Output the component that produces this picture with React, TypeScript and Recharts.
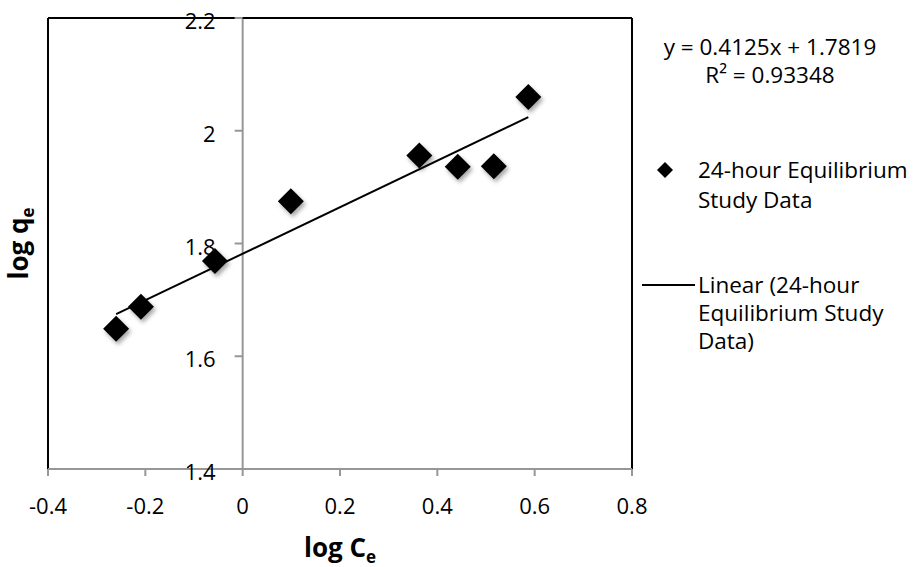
import React from 'react';
import {
  ScatterChart,
  Scatter,
  XAxis,
  YAxis,
  CartesianGrid,
  ReferenceLine,
  ReferenceDot,
} from 'recharts';

const logCe = [-0.26, -0.209, -0.057, 0.099, 0.363, 0.442, 0.516, 0.587];
const logQe = [1.649, 1.688, 1.769, 1.875, 1.956, 1.936, 1.937, 2.06];
const xTicks = [-0.4, -0.2, 0, 0.2, 0.4, 0.6, 0.8];
const yTicks = [1.4, 1.6, 1.8, 2, 2.2];
const slope = 0.4125;
const intercept = 1.7819;
const rSquared = '0.93348';

const points = logCe.map((x, i) => ({ x, y: logQe[i] }));
const xMin = Math.min(...logCe);
const xMax = Math.max(...logCe);

const FONT = '"Open Sans", sans-serif';
const GRID = '#979797';

function Diamond(props: any) {
  const { cx, cy } = props;
  const r = 13;
  return (
    <polygon
      points={`${cx},${cy - r} ${cx + r},${cy} ${cx},${cy + r} ${cx - r},${cy}`}
      fill="#000"
      filter="url(#markShadow)"
    />
  );
}

function YTick(props: any) {
  const { cx, cy, value } = props;
  return (
    <g>
      <line x1={cx - 8} y1={cy} x2={cx} y2={cy} stroke={GRID} strokeWidth={2} />
      <text
        x={cx - 27}
        y={cy + 2}
        textAnchor="end"
        dominantBaseline="central"
        fontFamily={FONT}
        fontSize={22}
        fill="#000"
      >
        {value}
      </text>
    </g>
  );
}

function LegendBox() {
  const txt: React.CSSProperties = {
    position: 'absolute',
    fontFamily: FONT,
    fontSize: 22.5,
    lineHeight: '28px',
    color: '#000',
    whiteSpace: 'nowrap',
  };
  return (
    <div style={{ position: 'absolute', left: 640, top: 0, width: 279, height: 400 }}>
      <div style={{ ...txt, left: 0, width: 260, top: 33, textAlign: 'center' }}>
        y = {slope}x + {intercept}
        <br />
        R² = {rSquared}
      </div>
      <svg style={{ position: 'absolute', left: 0, top: 0 }} width={60} height={400}>
        <polygon points="25,162 33,170 25,178 17,170" fill="#000" />
        <line x1={2} y1={285} x2={55} y2={285} stroke="#000" strokeWidth={2} />
      </svg>
      <div style={{ ...txt, left: 58, top: 155, lineHeight: '30px' }}>
        24-hour Equilibrium
        <br />
        Study Data
      </div>
      <div style={{ ...txt, left: 58, top: 271 }}>
        Linear (24-hour
        <br />
        Equilibrium Study
        <br />
        Data)
      </div>
    </div>
  );
}

export default function App() {
  return (
    <div style={{ position: 'absolute', left: 0, top: 0, width: 919, height: 567, background: '#fff' }}>
      <svg width={0} height={0} style={{ position: 'absolute' }}>
        <defs>
          <filter id="markShadow" x="-50%" y="-50%" width="200%" height="200%">
            <feDropShadow dx={2} dy={3} stdDeviation={2} floodColor="#000" floodOpacity={0.35} />
          </filter>
        </defs>
      </svg>
      <ScatterChart
        width={919}
        height={567}
        margin={{ top: 18, right: 287, bottom: 8, left: 0 }}
      >
        <CartesianGrid vertical={false} stroke={GRID} strokeWidth={2} />
        <ReferenceLine x={0} stroke={GRID} strokeWidth={2} />
        <ReferenceLine x={-0.4} stroke="#000" strokeWidth={2} />
        <ReferenceLine x={0.8} stroke="#000" strokeWidth={2} />
        <ReferenceLine y={2.2} stroke="#000" strokeWidth={2} />
        <XAxis
          type="number"
          dataKey="x"
          domain={[-0.4, 0.8]}
          ticks={xTicks}
          interval={0}
          height={90}
          stroke={GRID}
          strokeWidth={2}
          tickSize={7}
          tickMargin={22}
          tick={{ fill: '#000', fontFamily: FONT, fontSize: 22 }}
          tickFormatter={(v: number) => String(v)}
          label={{
            content: (p: any) => {
              const vb = p.viewBox;
              return (
                <text
                  x={vb.x + vb.width / 2}
                  y={vb.y + 88}
                  textAnchor="middle"
                  fontFamily={FONT}
                  fontWeight="bold"
                  fontSize={26}
                  fill="#000"
                >
                  log C<tspan fontSize={17} dy={6}>e</tspan>
                </text>
              );
            },
          }}
        />
        <YAxis
          type="number"
          dataKey="y"
          domain={[1.4, 2.2]}
          ticks={yTicks}
          width={48}
          axisLine={false}
          tickLine={false}
          tick={false}
          label={{
            content: (p: any) => {
              const vb = p.viewBox;
              const cx = vb.x + 28;
              const cy = vb.y + vb.height / 2;
              return (
                <text
                  x={cx}
                  y={cy}
                  transform={`rotate(-90, ${cx}, ${cy})`}
                  textAnchor="middle"
                  fontFamily={FONT}
                  fontWeight="bold"
                  fontSize={26}
                  fill="#000"
                >
                  log q<tspan fontSize={17} dy={6}>e</tspan>
                </text>
              );
            },
          }}
        />
        {yTicks.map((t) => (
          <ReferenceDot
            key={t}
            x={0}
            y={t}
            r={0}
            shape={(p: any) => <YTick {...p} value={t} />}
          />
        ))}
        <ReferenceLine
          segment={[
            { x: xMin, y: slope * xMin + intercept },
            { x: xMax, y: slope * xMax + intercept },
          ]}
          stroke="#000"
          strokeWidth={2}
        />
        <Scatter data={points} shape={Diamond} isAnimationActive={false} />
      </ScatterChart>
      <LegendBox />
    </div>
  );
}
